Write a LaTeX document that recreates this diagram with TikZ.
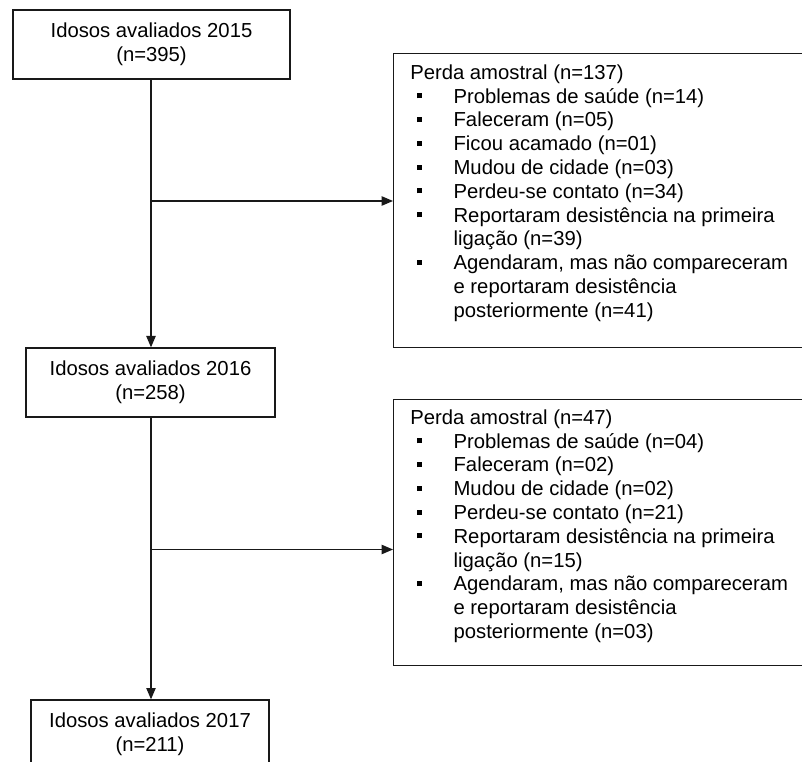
\documentclass[tikz,border=0pt]{standalone}
\usepackage{fontspec}
\setmainfont{Liberation Sans}
\usetikzlibrary{arrows.meta}
\newcommand{\bul}{\makebox[32.5pt][l]{\hspace*{5pt}\rule[3.6pt]{3.8pt}{3.8pt}}}
\newcommand{\cont}{\hspace*{32.5pt}}
\newcommand{\fstrut}{\rule{0pt}{11pt}}
\tikzset{
  every node/.style={font=\fontsize{15.2}{17.85}\selectfont},
  ybox/.style={draw=black!90, line width=1pt, inner sep=0pt, align=center,
    minimum height=51.75pt},
  rbox/.style={draw=black!90, line width=1pt, inner sep=0pt, anchor=north west,
    minimum width=315pt},
  lst/.style={inner sep=0pt, anchor=north west, align=left},
  arr/.style={draw=black!90, line width=1pt, -{Triangle[length=8.5pt,width=7pt]}}
}
\begin{document}
\begin{tikzpicture}[x=0.75pt,y=-0.75pt]
\useasboundingbox (0,0) rectangle (802,762);
\clip (0,0) rectangle (802,762);
\node[ybox, minimum width=207.75pt] (y15) at (151.5,44.5) {Idosos avaliados 2015\\(n=395)};
\node[ybox, minimum width=186.75pt] (y16) at (150.5,382.5) {Idosos avaliados 2016\\(n=258)};
\node[ybox, minimum width=178.5pt] (y17) at (150,734.5) {Idosos avaliados 2017\\(n=211)};
\node[rbox, minimum height=220.5pt] (l1) at (393,53) {};
\node[rbox, minimum height=199.5pt] (l2) at (393,399) {};
\node[lst] (t1) at (410,64.33) {\fstrut Perda amostral (n=137)\\
\bul Problemas de saúde (n=14)\\
\bul Faleceram (n=05)\\
\bul Ficou acamado (n=01)\\
\bul Mudou de cidade (n=03)\\
\bul Perdeu-se contato (n=34)\\
\bul Reportaram desistência na primeira\\
\cont ligação (n=39)\\
\bul Agendaram, mas não compareceram\\
\cont e reportaram desistência\\
\cont posteriormente (n=41)};
\node[lst] (t2) at (410,409.33) {\fstrut Perda amostral (n=47)\\
\bul Problemas de saúde (n=04)\\
\bul Faleceram (n=02)\\
\bul Mudou de cidade (n=02)\\
\bul Perdeu-se contato (n=21)\\
\bul Reportaram desistência na primeira\\
\cont ligação (n=15)\\
\bul Agendaram, mas não compareceram\\
\cont e reportaram desistência\\
\cont posteriormente (n=03)};
\coordinate (j1) at (151,201);
\coordinate (j2) at (151,549.5);
\draw[arr] (y15.south -| j1) -- (j1 |- y16.north);
\draw[arr] (j1) -- (j1 -| l1.west);
\draw[arr] (y16.south -| j2) -- (j2 |- y17.north);
\draw[arr] (j2) -- (j2 -| l2.west);
\end{tikzpicture}
\end{document}
